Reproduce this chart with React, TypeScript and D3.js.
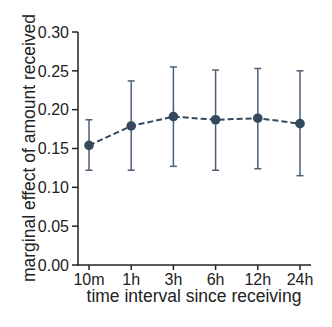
import React from 'react';
import {scalePoint, scaleLinear, line} from 'd3';

const intervals = ['10m', '1h', '3h', '6h', '12h', '24h'];
const effect = [0.154, 0.179, 0.191, 0.187, 0.189, 0.182];
const lower = [0.122, 0.122, 0.127, 0.122, 0.124, 0.115];
const upper = [0.187, 0.237, 0.255, 0.251, 0.253, 0.250];
const yTicks = [0, 0.05, 0.1, 0.15, 0.2, 0.25, 0.3];

const color = '#34495e';
const barColor = '#4d6073';

const App = () => {
    const width = 332, height = 327;

    const xScale = scalePoint()
        .domain(intervals)
        .range([89, 300]);

    const yScale = scaleLinear()
        .domain([0, 0.3])
        .range([265, 32]);

    const pts = intervals.map((d, i) => ({x: xScale(d)!, y: yScale(effect[i])}));
    const path = line<{x: number, y: number}>().x(d => d.x).y(d => d.y)(pts);

    const font = 'Liberation Sans, Arial, sans-serif';

    return (
        <svg width={width} height={height} style={{position: 'absolute', left: 0, top: 0}} fontFamily={font}>
            {/* y axis */}
            <line x1={78} x2={78} y1={yScale(0.3)} y2={yScale(0) + 0.5} stroke="#222" strokeWidth={1.5}/>
            {yTicks.map(t => (
                <g key={t}>
                    <line x1={72} x2={78} y1={yScale(t)} y2={yScale(t)} stroke="#222" strokeWidth={1.5}/>
                    <text x={69} y={yScale(t)} dy="0.36em" textAnchor="end" fontSize={16} fill="#222">{t.toFixed(2)}</text>
                </g>
            ))}
            {/* x axis */}
            <line x1={77.25} x2={311} y1={265} y2={265} stroke="#222" strokeWidth={1.5}/>
            {intervals.map(d => (
                <g key={d}>
                    <line x1={xScale(d)} x2={xScale(d)} y1={265} y2={270} stroke="#222" strokeWidth={1.5}/>
                    <text x={xScale(d)} y={284.5} textAnchor="middle" fontSize={16} fill="#222">{d}</text>
                </g>
            ))}
            <text x={194} y={302} textAnchor="middle" fontSize={17.5} fill="#222">time interval since receiving</text>
            <text transform={`translate(35,148) rotate(-90)`} textAnchor="middle" fontSize={17.5} fill="#222">marginal effect of amount received</text>
            {/* error bars */}
            {intervals.map((d, i) => {
                const x = xScale(d)!;
                return (
                    <g key={d} stroke={barColor} strokeWidth={1.5}>
                        <line x1={x} x2={x} y1={yScale(lower[i])} y2={yScale(upper[i])}/>
                        <line x1={x - 3.5} x2={x + 3.5} y1={yScale(lower[i])} y2={yScale(lower[i])}/>
                        <line x1={x - 3.5} x2={x + 3.5} y1={yScale(upper[i])} y2={yScale(upper[i])}/>
                    </g>
                );
            })}
            <path d={path ?? ''} fill="none" stroke={color} strokeWidth={2} strokeDasharray="6,3"/>
            {pts.map((p, i) => (
                <circle key={i} cx={p.x} cy={p.y} r={4.8} fill={color}/>
            ))}
        </svg>
    );
};

export default App;
